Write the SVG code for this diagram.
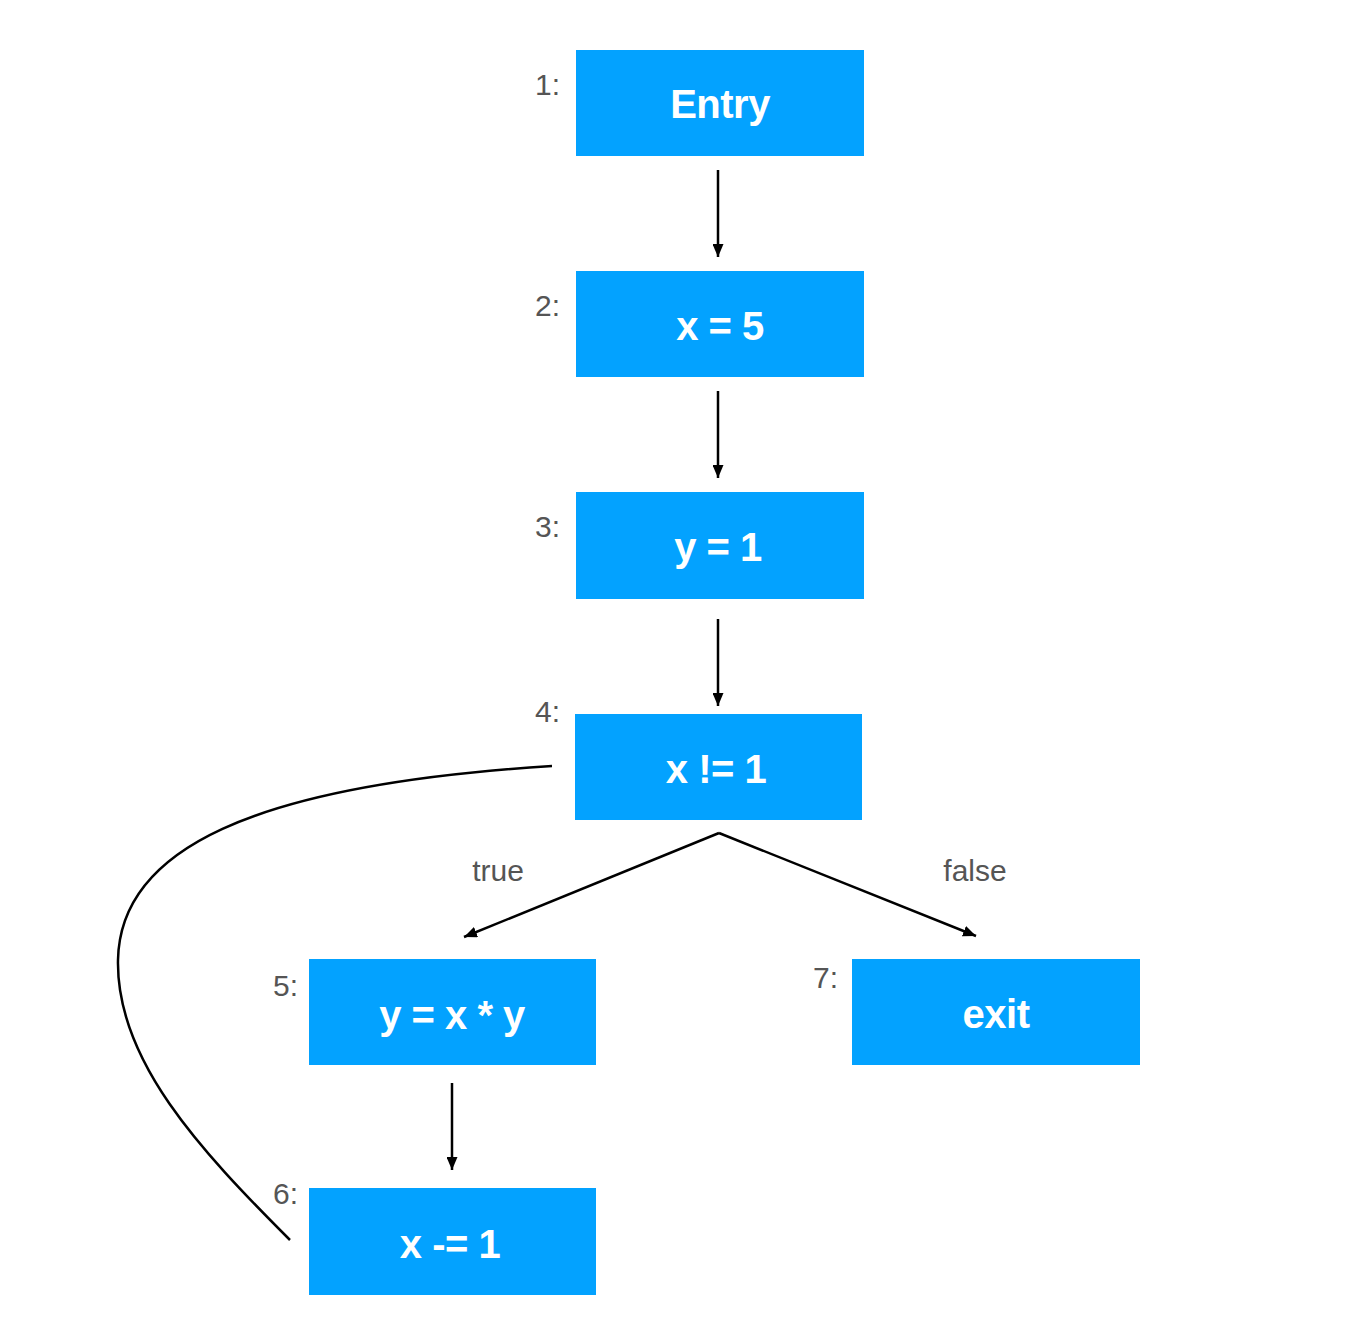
<svg xmlns="http://www.w3.org/2000/svg" width="1364" height="1336" viewBox="0 0 1364 1336">
<style>
.box{fill:#03A2FF}
.t{font-family:"Liberation Sans",Arial,sans-serif;font-weight:bold;font-size:40px;fill:#fff;text-anchor:middle;letter-spacing:-0.5px}
.n{font-family:"Liberation Sans",Arial,sans-serif;font-size:30px;fill:#555;text-anchor:end}
.e{font-family:"Liberation Sans",Arial,sans-serif;font-size:30px;fill:#555;text-anchor:middle}
.c{stroke:#000;stroke-width:2.5;fill:none}
</style>
<defs>
<marker id="ah" viewBox="0 0 13 11" refX="13" refY="5.5" markerWidth="13" markerHeight="11" markerUnits="userSpaceOnUse" orient="auto">
<path d="M0,0 L13,5.5 L0,11 Z" fill="#000"/>
</marker>
</defs>
<rect width="1364" height="1336" fill="#fff"/>
<g id="n1"><rect class="box" x="576" y="50" width="288" height="106"/><text class="t" x="720" y="118">Entry</text><text class="n" x="560" y="95">1:</text></g>
<g id="n2"><rect class="box" x="576" y="271" width="288" height="106"/><text class="t" x="720" y="340">x = 5</text><text class="n" x="560" y="316">2:</text></g>
<g id="n3"><rect class="box" x="576" y="492" width="288" height="107"/><text class="t" x="718" y="561">y = 1</text><text class="n" x="560" y="537">3:</text></g>
<g id="n4"><rect class="box" x="575" y="714" width="287" height="106"/><text class="t" x="716" y="783">x != 1</text><text class="n" x="560" y="722">4:</text></g>
<g id="n5"><rect class="box" x="309" y="959" width="287" height="106"/><text class="t" x="452" y="1029">y = x * y</text><text class="n" x="298" y="996">5:</text></g>
<g id="n6"><rect class="box" x="309" y="1188" width="287" height="107"/><text class="t" x="450" y="1258">x -= 1</text><text class="n" x="298" y="1204">6:</text></g>
<g id="n7"><rect class="box" x="852" y="959" width="288" height="106"/><text class="t" x="996" y="1028">exit</text><text class="n" x="838" y="988">7:</text></g>
<g id="connectors">
<line class="c" x1="718" y1="170" x2="718" y2="257" marker-end="url(#ah)"/>
<line class="c" x1="718" y1="391" x2="718" y2="478" marker-end="url(#ah)"/>
<line class="c" x1="718" y1="619" x2="718" y2="706" marker-end="url(#ah)"/>
<line class="c" x1="719" y1="833" x2="464" y2="937" marker-end="url(#ah)"/>
<line class="c" x1="719" y1="833" x2="976" y2="936" marker-end="url(#ah)"/>
<line class="c" x1="452" y1="1083" x2="452" y2="1170" marker-end="url(#ah)"/>
<path class="c" d="M552,766 C250,785 120,850 118,960 C116,1060 200,1150 290,1240"/>
<text class="e" x="498" y="881">true</text>
<text class="e" x="975" y="881">false</text>
</g>
</svg>
